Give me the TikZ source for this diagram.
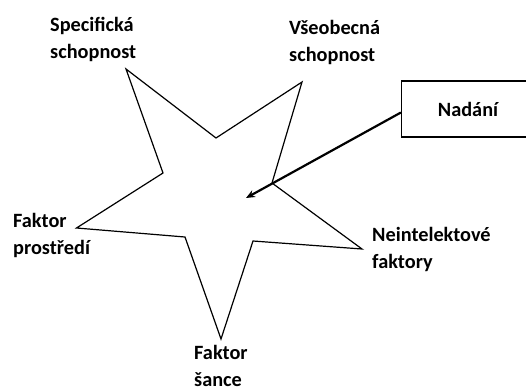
\documentclass[tikz,border=0pt]{standalone}
\usepackage{fontspec}
\setmainfont{Carlito}
\usetikzlibrary{arrows.meta}
\begin{document}
\begin{tikzpicture}[x=1pt,y=-1pt,
  lbl/.style={anchor=west,align=left,inner sep=0pt,font=\bfseries\fontsize{20.3}{27}\selectfont},
  starline/.style={draw=black,line width=1.2pt,line join=miter},
  boxstyle/.style={draw=black,line width=1.2pt,minimum width=130pt,minimum height=56pt,inner sep=0pt,font=\bfseries\fontsize{20.3}{23}\selectfont},
  arrowline/.style={draw=black,line width=2.2pt,-{Stealth[length=9pt,width=7.5pt]}}]
\useasboundingbox (0,0) rectangle (526,390);
% star
\coordinate (p1) at (126,69);
\coordinate (p2) at (216,138);
\coordinate (p3) at (302,82);
\coordinate (p4) at (272,183);
\coordinate (p5) at (362,249);
\coordinate (p6) at (253,241);
\coordinate (p7) at (221,339);
\coordinate (p8) at (185,237);
\coordinate (p9) at (76.5,228);
\coordinate (p10) at (163,173);
\draw[starline] (p1) -- (p2) -- (p3) -- (p4) -- (p5) -- (p6) -- (p7) -- (p8) -- (p9) -- (p10) -- cycle;
% labels
\node[lbl] (spec) at (50,39.5) {Specifická\\schopnost};
\node[lbl] (vseo) at (289,42.5) {Všeobecná\\schopnost};
\node[lbl] (prost) at (13,235.5) {Faktor\\prostředí};
\node[lbl] (neint) at (372,249.5) {Neintelektové\\faktory};
\node[lbl] (sance) at (194,365.5) {Faktor\\šance};
% box
\node[boxstyle] (nadani) at (466.5,109) {\hspace*{3pt}Nadání};
\coordinate (tip) at (246,198);
\coordinate (start) at (nadani.west |- 0,112.5);
\draw[arrowline] (start) -- (tip);
\end{tikzpicture}
\end{document}
